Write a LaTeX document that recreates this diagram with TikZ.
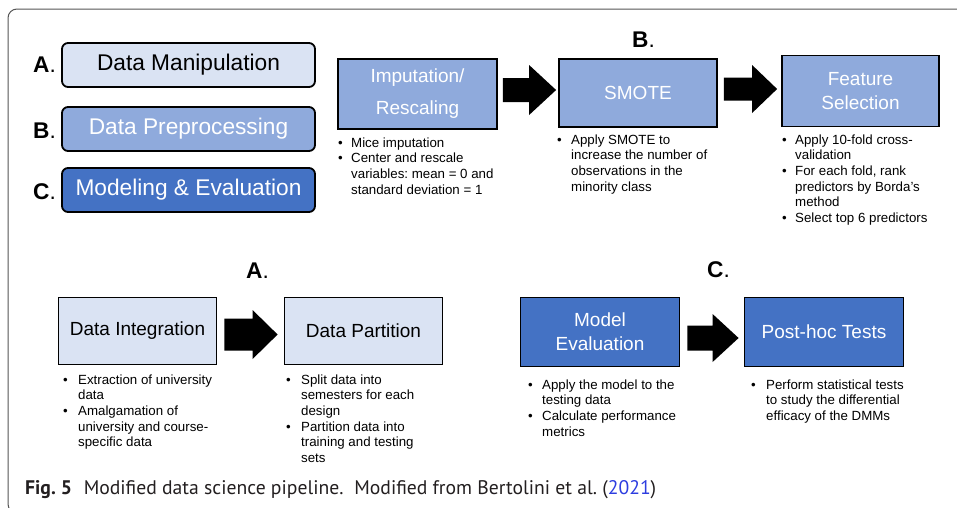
\documentclass[tikz,border=0pt]{standalone}
\usepackage{fontspec}
\setmainfont{Liberation Sans}
\newfontfamily\capfont{PT Sans}
\usepackage{graphicx}
\usetikzlibrary{calc}
\frenchspacing
\definecolor{paleblue}{HTML}{DAE3F3}
\definecolor{midblue}{HTML}{8FAADC}
\definecolor{darkblue}{HTML}{4472C4}
\definecolor{capgrey}{HTML}{231F20}
\definecolor{linkblue}{HTML}{2D3DE0}
\definecolor{framegrey}{HTML}{555555}
\newcommand\blockarrow[8]{%
  \fill[black] let \p1=(#1.east), \p2=(#2.west) in
    (\x1+#3pt, \y1+#5pt+#6pt) -- (\x2-#4pt-#8pt, \y1+#5pt+#6pt)
    -- (\x2-#4pt-#8pt, \y1+#5pt+#7pt) -- (\x2-#4pt, \y1+#5pt)
    -- (\x2-#4pt-#8pt, \y1+#5pt-#7pt) -- (\x2-#4pt-#8pt, \y1+#5pt-#6pt)
    -- (\x1+#3pt, \y1+#5pt-#6pt) -- cycle;}
\newcommand\bfnt{\fontsize{13.3}{15.7}\selectfont\frenchspacing}
\begin{document}
\begin{tikzpicture}[x=1pt,y=-1pt,
  legbox/.style={draw=black, line width=1.8pt, rounded corners=6pt, inner sep=0pt,
    minimum width=253pt, minimum height=44pt, font=\fontsize{22.7}{26}\selectfont},
  stepbox/.style={draw=black, line width=1.8pt, inner sep=0pt, align=center,
    font=\fontsize{19}{24}\selectfont},
  lab/.style={anchor=base west, inner sep=0pt, font=\fontsize{22.7}{26}\selectfont},
  bullets/.style={anchor=base west, inner sep=0pt, font=\bfnt, align=left}]
\useasboundingbox (0,0) rectangle (957,507);
\clip (0,0) rectangle (957,507);
\fill[white] (0,0) rectangle (957,507);
\draw[framegrey, line width=1pt, rounded corners=9pt] (8,9) rectangle (990,513);

% legend
\node[lab] (legA) at (33,72) {\textbf{A}.};
\node[lab] (legB) at (33,138) {\textbf{B}.};
\node[lab] (legC) at (33,199) {\textbf{C}.};
\node[legbox, fill=paleblue, text=black] (manip) at (188.5,65) {Data Manipulation};
\node[legbox, fill=midblue, text=white] (prep) at (188.5,129) {Data Preprocessing};
\node[legbox, fill=darkblue, text=white] (model) at (188.5,190) {Modeling \& Evaluation};

% B row
\node[lab] (labB) at (632,47) {\textbf{B}.};
\node[stepbox, fill=midblue, text=white, minimum width=159pt, minimum height=70pt,
  font=\fontsize{19}{32}\selectfont] (imp) at (417.5,94) {Imputation/\\Rescaling};
\node[stepbox, fill=midblue, text=white, minimum width=158pt, minimum height=68pt] (smote) at (638,93) {SMOTE};
\node[stepbox, fill=midblue, text=white, minimum width=157pt, minimum height=71pt] (feat) at (860.5,91) {Feature\\Selection};
\blockarrow{imp}{smote}{5}{2}{4}{12}{25}{27}
\blockarrow{smote}{feat}{6}{4}{4}{11.5}{24}{25}

\node[bullets] (impb) at (338,147) {\begin{tabular}[t]{@{}p{13pt}@{}l@{}}
\textbullet & Mice imputation\\
\textbullet & Center and rescale\\
 & variables: mean = 0 and\\
 & standard deviation = 1
\end{tabular}};
\node[bullets] (smoteb) at (557,144) {\begin{tabular}[t]{@{}p{14pt}@{}l@{}}
\textbullet & Apply SMOTE to\\
 & increase the number of\\
 & observations in the\\
 & minority class
\end{tabular}};
\node[bullets] (featb) at (782,144) {\begin{tabular}[t]{@{}p{13pt}@{}l@{}}
\textbullet & Apply 10-fold cross-\\
 & validation\\
\textbullet & For each fold, rank\\
 & predictors by Borda’s\\
 & method\\
\textbullet & Select top 6 predictors
\end{tabular}};

% A row
\node[lab] (labA) at (246,278) {\textbf{A}.};
\node[stepbox, fill=paleblue, text=black, minimum width=158pt, minimum height=67pt] (integ) at (137.5,331) {Data Integration};
\node[stepbox, fill=paleblue, text=black, minimum width=158pt, minimum height=67pt] (part) at (363.5,331) {Data Partition};
\blockarrow{integ}{part}{7}{6}{-3.5}{16}{24.5}{25}
\node[bullets] (integb) at (63,384) {\begin{tabular}[t]{@{}p{15pt}@{}l@{}}
\textbullet & Extraction of university\\
 & data\\
\textbullet & Amalgamation of\\
 & university and course-\\
 & specific data
\end{tabular}};
\node[bullets] (partb) at (286,384) {\begin{tabular}[t]{@{}p{15pt}@{}l@{}}
\textbullet & Split data into\\
 & semesters for each\\
 & design\\
\textbullet & Partition data into\\
 & training and testing\\
 & sets
\end{tabular}};

% C row
\node[lab] (labC) at (707,277) {\textbf{C}.};
\node[stepbox, fill=darkblue, text=white, minimum width=159pt, minimum height=69pt] (meval) at (600,332) {Model\\Evaluation};
\node[stepbox, fill=darkblue, text=white, minimum width=159pt, minimum height=69pt] (post) at (824,332) {Post-hoc Tests};
\blockarrow{meval}{post}{7}{5}{-6}{12.5}{24}{26}
\node[bullets] (mevalb) at (528,389) {\begin{tabular}[t]{@{}p{14pt}@{}l@{}}
\textbullet & Apply the model to the\\
 & testing data\\
\textbullet & Calculate performance\\
 & metrics
\end{tabular}};
\node[bullets] (postb) at (751,389) {\begin{tabular}[t]{@{}p{15pt}@{}l@{}}
\textbullet & Perform statistical tests\\
 & to study the differential\\
 & efficacy of the DMMs
\end{tabular}};

% caption
\node[anchor=base west, inner sep=0pt, text=capgrey, font=\capfont\fontsize{19}{22}\selectfont] (cap) at (25,494)
  {\resizebox{631pt}{!}{\textbf{Fig. 5}\hspace{0.6em}Modified data science pipeline.\hspace{0.55em}Modified from Bertolini et al. (\textcolor{linkblue}{2021})}};
\end{tikzpicture}
\end{document}
